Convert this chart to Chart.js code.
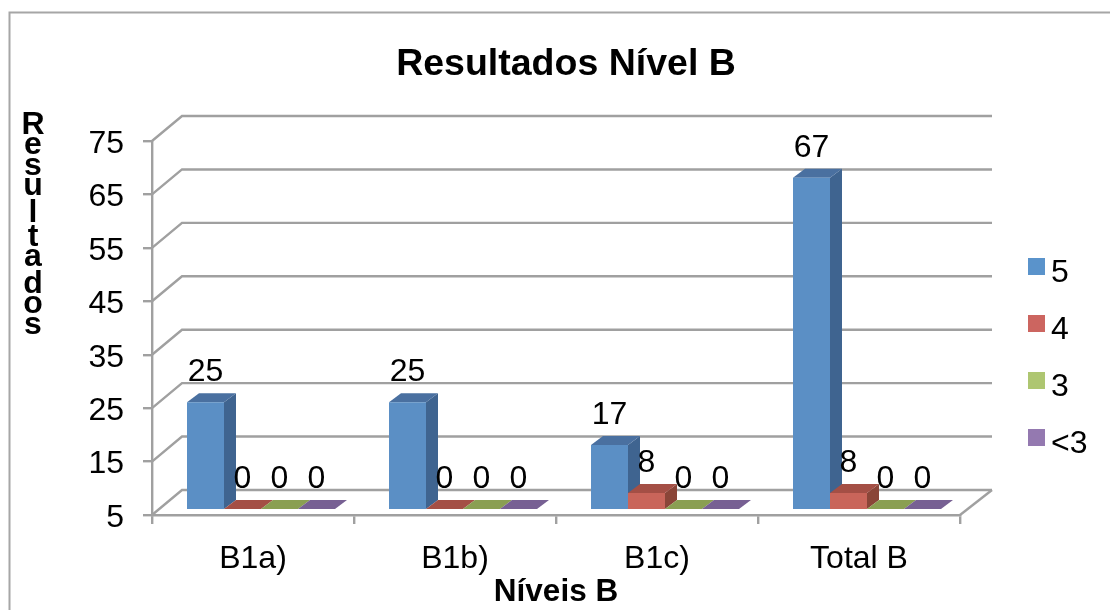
<!DOCTYPE html>
<html>
<head>
<meta charset="utf-8">
<title>Resultados Nível B</title>
<script src="https://cdn.jsdelivr.net/npm/chart.js@4"></script>
<style>
  html, body { margin: 0; padding: 0; background: #fff; overflow: hidden; }
  canvas { display: block; }
</style>
</head>
<body>
<canvas id="chart" width="1110" height="610"></canvas>
<script>
const categories = ['B1a)', 'B1b)', 'B1c)', 'Total B']
const seriesNames = ['5', '4', '3', '<3']
const values5 = [25, 25, 17, 67]
const values4 = [0, 0, 8, 8]
const values3 = [0, 0, 0, 0]
const valuesLt3 = [0, 0, 0, 0]
const yMin = 5
const yMax = 75
const yStep = 10
const chartTitle = 'Resultados Nível B'
const xTitle = 'Níveis B'
const yTitle = 'Resultados'

const FONT = '"Liberation Sans", Arial, sans-serif'
const GREY = '#a0a0a0'
const front = ['#5b8fc5', '#c9655a', '#9bb95c', '#8a6fa8']
const topFace = ['#4a70a0', '#a44f45', '#8a9f52', '#776093']
const side = ['#3f6490', '#8a4538', '#76894a', '#645080']
const legendColors = ['#5a93cb', '#cc6560', '#aec671', '#9479b0']

// depth of the 3D look, in pixels
const WALL_X = 30
const WALL_Y = 25
const BAR_SHIFT_X = 8
const BAR_SHIFT_Y = 6
const DEPTH_X = 12
const DEPTH_Y = 9

const poly = (ctx, color, pts) => {
  ctx.fillStyle = color
  ctx.beginPath()
  pts.forEach((p, i) => i ? ctx.lineTo(p[0], p[1]) : ctx.moveTo(p[0], p[1]))
  ctx.closePath()
  ctx.fill()
}

const look3d = {
  id: 'look3d',
  afterLayout(chart) {
    chart.titleBlock.left += 10
    chart.titleBlock.right += 10
  },
  beforeDraw(chart) {
    const ctx = chart.ctx
    ctx.save()
    ctx.strokeStyle = '#a6a6a6'
    ctx.lineWidth = 2
    ctx.strokeRect(9.5, 12.5, 1300, 800)
    ctx.restore()
  },
  beforeDatasetsDraw(chart) {
    const ctx = chart.ctx
    const { left, right, bottom } = chart.chartArea
    const y = chart.scales.y
    ctx.save()
    ctx.strokeStyle = GREY
    ctx.lineWidth = 2.4
    y.ticks.forEach(t => {
      const py = y.getPixelForValue(t.value)
      ctx.beginPath()
      ctx.moveTo(left, py)
      ctx.lineTo(left + WALL_X, py - WALL_Y)
      ctx.lineTo(right + WALL_X + 2, py - WALL_Y)
      ctx.stroke()
    })
    ctx.beginPath()
    ctx.moveTo(right, bottom)
    ctx.lineTo(right + WALL_X + 2, bottom - WALL_Y)
    ctx.stroke()

    // side and top faces, left to right so each one covers the previous
    chart.data.labels.forEach((_, i) => {
      chart.data.datasets.forEach((ds, d) => {
        const el = chart.getDatasetMeta(d).data[i]
        const x0 = el.x - el.width / 2 + BAR_SHIFT_X
        const x1 = x0 + el.width
        const yTop = y.getPixelForValue(Math.max(ds.data[i], yMin)) - BAR_SHIFT_Y
        const yBase = bottom - BAR_SHIFT_Y
        if (yBase > yTop) {
          poly(ctx, side[d], [[x1, yTop], [x1 + DEPTH_X, yTop - DEPTH_Y], [x1 + DEPTH_X, yBase - DEPTH_Y], [x1, yBase]])
        }
        poly(ctx, topFace[d], [[x0, yTop], [x1, yTop], [x1 + DEPTH_X, yTop - DEPTH_Y], [x0 + DEPTH_X, yTop - DEPTH_Y]])
      })
    })
    ctx.restore()
  },
  beforeDatasetDraw(chart) {
    chart.ctx.save()
    chart.ctx.translate(BAR_SHIFT_X, -BAR_SHIFT_Y)
  },
  afterDatasetDraw(chart) {
    chart.ctx.restore()
  },
  afterDatasetsDraw(chart) {
    const ctx = chart.ctx
    const y = chart.scales.y
    ctx.save()
    ctx.fillStyle = '#000'
    ctx.font = '32px ' + FONT
    ctx.textAlign = 'center'
    ctx.textBaseline = 'alphabetic'
    chart.data.datasets.forEach((ds, d) => {
      chart.getDatasetMeta(d).data.forEach((el, i) => {
        const yTop = y.getPixelForValue(Math.max(ds.data[i], yMin)) - BAR_SHIFT_Y
        ctx.fillText(String(ds.data[i]), el.x + BAR_SHIFT_X, yTop - 21)
      })
    })
    ctx.restore()
  },
  afterDraw(chart) {
    const ctx = chart.ctx
    ctx.save()
    // stacked y axis title
    ctx.fillStyle = '#000'
    ctx.font = 'bold 32px ' + FONT
    ctx.textAlign = 'center'
    ctx.textBaseline = 'alphabetic'
    let cy = 112
    yTitle.split('').forEach(ch => {
      const m = ctx.measureText(ch)
      cy += m.actualBoundingBoxAscent
      ctx.fillText(ch, 33, cy)
      cy += 3.4
    })
    // legend
    ctx.font = '32px ' + FONT
    ctx.textAlign = 'left'
    chart.data.datasets.forEach((ds, d) => {
      const ly = 258 + d * 57
      ctx.fillStyle = legendColors[d]
      ctx.fillRect(1028, ly, 17, 17)
      ctx.fillStyle = '#000'
      ctx.fillText(ds.label, 1051, ly + 24)
    })
    ctx.restore()
  }
}

const allValues = [values5, values4, values3, valuesLt3]

new Chart(document.getElementById('chart').getContext('2d'), {
  type: 'bar',
  data: {
    labels: categories,
    datasets: allValues.map((vals, d) => ({
      label: seriesNames[d],
      data: vals,
      backgroundColor: front[d],
      borderWidth: 0,
      categoryPercentage: 148 / 202,
      barPercentage: 1
    }))
  },
  plugins: [look3d],
  options: {
    responsive: false,
    animation: false,
    layout: { autoPadding: false, padding: { left: 0, right: 150, top: 0, bottom: 0 } },
    plugins: {
      legend: { display: false },
      tooltip: { enabled: false },
      title: {
        display: true,
        text: chartTitle,
        fullSize: false,
        color: '#000',
        font: { family: FONT, size: 37.5, weight: 'bold', lineHeight: 1 },
        padding: { top: 46, bottom: 57.5 }
      }
    },
    scales: {
      x: {
        afterFit: s => { s.height = 95 },
        grid: { drawOnChartArea: false, color: GREY, lineWidth: 2.4, tickLength: 9 },
        border: { color: GREY, width: 2.4 },
        ticks: { color: '#000', padding: 16, maxRotation: 0, font: { family: FONT, size: 32 } },
        title: {
          display: true,
          text: xTitle,
          color: '#000',
          padding: { top: 0, bottom: -1 },
          font: { family: FONT, size: 31.5, weight: 'bold' }
        }
      },
      y: {
        min: yMin,
        max: yMax,
        afterFit: s => { s.width = 152 },
        grid: { drawOnChartArea: false, color: GREY, lineWidth: 2.4, tickLength: 9 },
        border: { color: GREY, width: 2.4 },
        ticks: { stepSize: yStep, color: '#000', padding: 19, labelOffset: 3, font: { family: FONT, size: 32 } }
      }
    }
  }
})
</script>
</body>
</html>
